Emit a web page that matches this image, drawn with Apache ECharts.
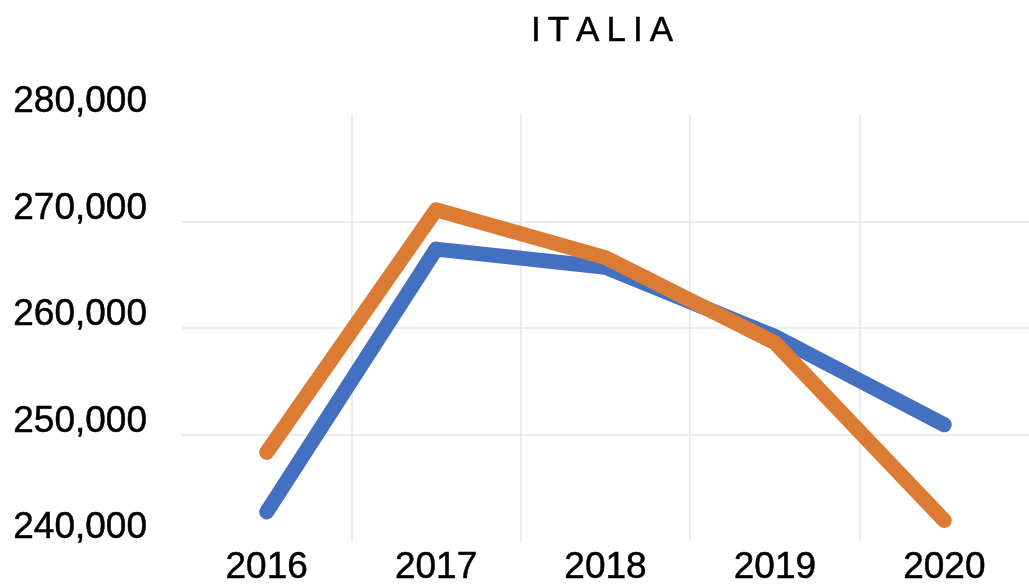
<!DOCTYPE html>
<html>
<head>
<meta charset="utf-8">
<script src="https://cdn.jsdelivr.net/npm/echarts@6/dist/echarts.min.js"></script>
<style>
html, body { margin: 0; padding: 0; background: #fff; }
#main { width: 1029px; height: 587px; }
</style>
</head>
<body>
<div id="main"></div>
<script>
var years = ['2016', '2017', '2018', '2019', '2020'];
var blueValues = [242700, 267400, 265700, 259200, 250900];
var orangeValues = [248300, 271100, 266600, 258600, 241900];
var yTicks = [240000, 250000, 260000, 270000, 280000];

var blueColor = '#4470C2';
var orangeColor = '#DC7C34';
var gridColor = '#E6E6E6';
var labelFont = 'Liberation Sans, Arial, sans-serif';

var myChart = echarts.init(document.getElementById('main'));

function fmt(v) {
    return String(v).replace(/\B(?=(\d{3})+(?!\d))/g, ',');
}

var option = {
    animation: false,
    backgroundColor: '#fff',
    title: {
        text: 'I\u2009T\u2009A\u2009L\u2009I\u2009A',
        left: 597,
        top: 9,
        textAlign: 'center',
        textStyle: {
            fontFamily: labelFont,
            fontSize: 35,
            fontWeight: 'normal',
            color: '#000',
            textBorderColor: '#000',
            textBorderWidth: 0.5
        }
    },
    grid: {
        left: 182,
        right: -3,
        top: 115,
        bottom: 44,
        containLabel: false
    },
    xAxis: {
        type: 'category',
        data: years,
        boundaryGap: true,
        axisLine: { show: false },
        axisTick: { show: false },
        axisLabel: {
            margin: 9,
            fontFamily: labelFont,
            fontSize: 37,
            color: '#000',
            textBorderColor: '#000',
            textBorderWidth: 0.5
        },
        splitLine: {
            show: true,
            showMinLine: false,
            showMaxLine: false,
            lineStyle: { color: gridColor, width: 1.5 }
        }
    },
    yAxis: {
        type: 'value',
        min: yTicks[0],
        max: yTicks[yTicks.length - 1],
        interval: yTicks[1] - yTicks[0],
        axisLine: { show: false },
        axisTick: { show: false },
        axisLabel: {
            margin: 35,
            fontFamily: labelFont,
            fontSize: 37,
            color: '#000',
            textBorderColor: '#000',
            textBorderWidth: 0.5,
            verticalAlign: 'bottom',
            lineHeight: 26,
            formatter: fmt
        },
        splitLine: {
            show: true,
            showMinLine: false,
            showMaxLine: false,
            lineStyle: { color: gridColor, width: 1.5 }
        }
    },
    series: [
        {
            name: 'blue',
            type: 'line',
            data: blueValues,
            showSymbol: false,
            symbol: 'none',
            lineStyle: { color: blueColor, width: 15, cap: 'round', join: 'round' }
        },
        {
            name: 'orange',
            type: 'line',
            data: orangeValues,
            showSymbol: false,
            symbol: 'none',
            lineStyle: { color: orangeColor, width: 15, cap: 'round', join: 'round' }
        }
    ]
};
myChart.setOption(option);
</script>
</body>
</html>
